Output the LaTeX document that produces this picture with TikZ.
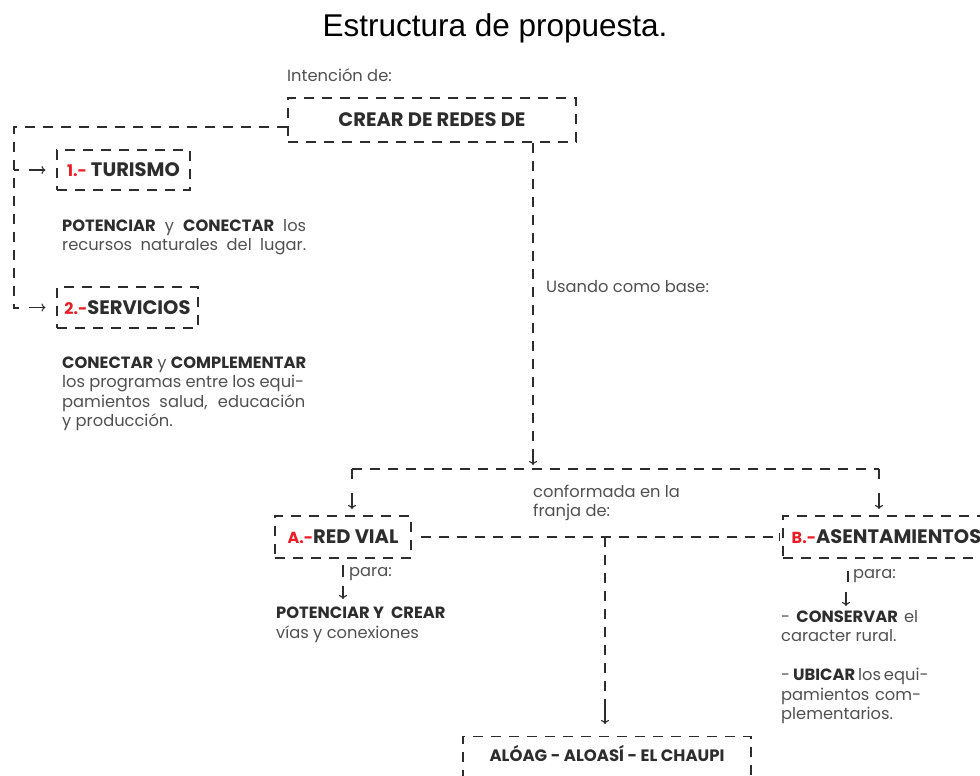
\documentclass[tikz,border=0pt]{standalone}
\usepackage{fontspec}
\setmainfont{Poppins}
\newfontfamily\titlefont{Liberation Sans}
\usetikzlibrary{arrows.meta,positioning}

\definecolor{labelred}{RGB}{237,28,36}
\definecolor{inkgray}{RGB}{45,45,45}
\definecolor{softgray}{RGB}{80,80,80}

\newcommand{\rojo}[1]{{\fontsize{16}{18}\selectfont\textcolor{labelred}{#1}}}
\newcommand{\negrita}[1]{\textcolor{inkgray}{\bfseries #1}}
\newcommand{\fitline}[2]{\makebox[#1pt][s]{#2}}

\tikzset{
  dashbox/.style={draw=inkgray, text=inkgray, line width=1.1pt, dash pattern=on 10pt off 8pt,
    inner xsep=4pt, font=\bfseries\fontsize{19.5}{22}\selectfont},
  link/.style={draw=inkgray, line width=1.1pt, dash pattern=on 10pt off 8pt},
  tip/.style={draw=inkgray, line width=1.1pt, -{To[length=4pt,width=8pt]}},
  tick/.style={draw=inkgray, line width=1.1pt},
  small/.style={text=softgray, inner sep=0pt, align=left, font=\fontsize{16.3}{19.5}\selectfont},
  title/.style={inner sep=0pt, font=\titlefont\fontsize{31.5}{34}\selectfont},
}

\begin{document}
\begin{tikzpicture}[x=1pt,y=-1pt]
    \useasboundingbox (0,0) rectangle (980,776);

    % Title
    \node[title] (titulo) at (495,28) {Estructura de propuesta.};

    % Top box
    \node[small, anchor=west] (intencion) at (287,75) {Intención de:};
    \node[dashbox, minimum width=288, minimum height=44] (crear) at (432,120) {CREAR DE REDES DE};

    % Left branch
    \node[dashbox, minimum width=133, minimum height=40] (turismo) at (123.5,170) {\rojo{1.-} TURISMO};
    \node[dashbox, minimum width=141, minimum height=41] (servicios) at (127.5,307.5) {\rojo{2.-}SERVICIOS};
    \coordinate (esq) at (14,127);
    \coordinate (pie) at (14,308);
    \draw[link] (crear.west |- esq) -- (esq) -- (pie) -- ++(5,0);
    \draw[tick] (esq |- turismo.west) -- ++(5,0);
    \draw[tip] ([xshift=-27pt]turismo.west) -- ([xshift=-11pt]turismo.west);
    \draw[tip] ([xshift=-27pt]servicios.west) -- ([xshift=-11pt]servicios.west);

    \node[small, anchor=west] (txtturismo) at (62,237)
      {\fitline{244}{\negrita{POTENCIAR} y \negrita{CONECTAR} los}\\
       \fitline{244}{recursos naturales del lugar.}};
    \node[small, anchor=west] (txtservicios) at (62,394)
      {\fitline{244}{\negrita{CONECTAR} y \negrita{COMPLEMENTAR}}\\
       \fitline{242}{los programas entre los equi-}\\
       \fitline{243}{pamientos salud, educación}\\
       y producción.};

    % Main trunk
    \coordinate (nudo) at (533,469);
    \coordinate (izq) at (352,469);
    \coordinate (der) at (879,469);
    \draw[link] (crear.south -| nudo) -- ([yshift=19pt]nudo);
    \draw[tip] ([yshift=19pt]nudo) -- ([yshift=4pt]nudo);
    \node[small, anchor=west] (base) at (546,287) {Usando como base:};
    \draw[link] (izq) -- (der);

    % Second level boxes
    \node[dashbox, minimum width=136, minimum height=42] (redvial) at (343,537) {\rojo{A.-}RED VIAL};
    \node[dashbox, minimum width=207, minimum height=42] (asent) at (886.5,537) {\rojo{B.-}ASENTAMIENTOS};
    \draw[link] (izq) -- ++(0,17);
    \draw[link] (der) -- ++(0,17);
    \draw[tip] ([yshift=-24pt]izq) -- ([yshift=-40pt]izq);
    \draw[tip] ([yshift=-24pt]der) -- ([yshift=-40pt]der);
    \node[small, anchor=west] (franja) at (533,503) {conformada en la\\franja de:};

    % Cross link and bottom box
    \coordinate (cruce) at (605,537);
    \draw[link] ([xshift=9pt]redvial.east) -- ([xshift=-3pt]asent.west);
    \draw[tick] ([xshift=-3pt,yshift=4pt]asent.west) -- ([xshift=-3pt,yshift=-4pt]asent.west);
    \draw[link] (cruce) -- (605,708);
    \draw[tip] (605,708) -- (605,724);
    \node[dashbox, anchor=north, minimum width=288, inner ysep=9pt, text depth=22pt,
      font=\bfseries\fontsize{16.5}{19}\selectfont] (chaupi) at (607,736)
      {ALÓAG - ALOASÍ - EL CHAUPI};

    % Red vial detail
    \draw[tick] (343,565) -- (343,577);
    \node[small, anchor=west] (para1) at (349,574) {para:};
    \draw[tip] (343,586) -- (343,599);
    \node[small, anchor=west] (txtvial) at (276,625)
      {\negrita{POTENCIAR Y\ \ CREAR}\\vías y conexiones};

    % Asentamientos detail
    \draw[tick] (848,571) -- (848,582);
    \node[small, anchor=west] (para2) at (853,576) {para:};
    \draw[tip] (846,592) -- (846,606);
    \node[small, anchor=west] (txtasent) at (781,667)
      {\fitline{137}{- \negrita{CONSERVAR} el}\\
       caracter rural.\\[19.5pt]
       \fitline{142}{- \negrita{UBICAR} los equi-}\\
       \fitline{140}{pamientos com-}\\
       plementarios.};

\end{tikzpicture}
\end{document}
